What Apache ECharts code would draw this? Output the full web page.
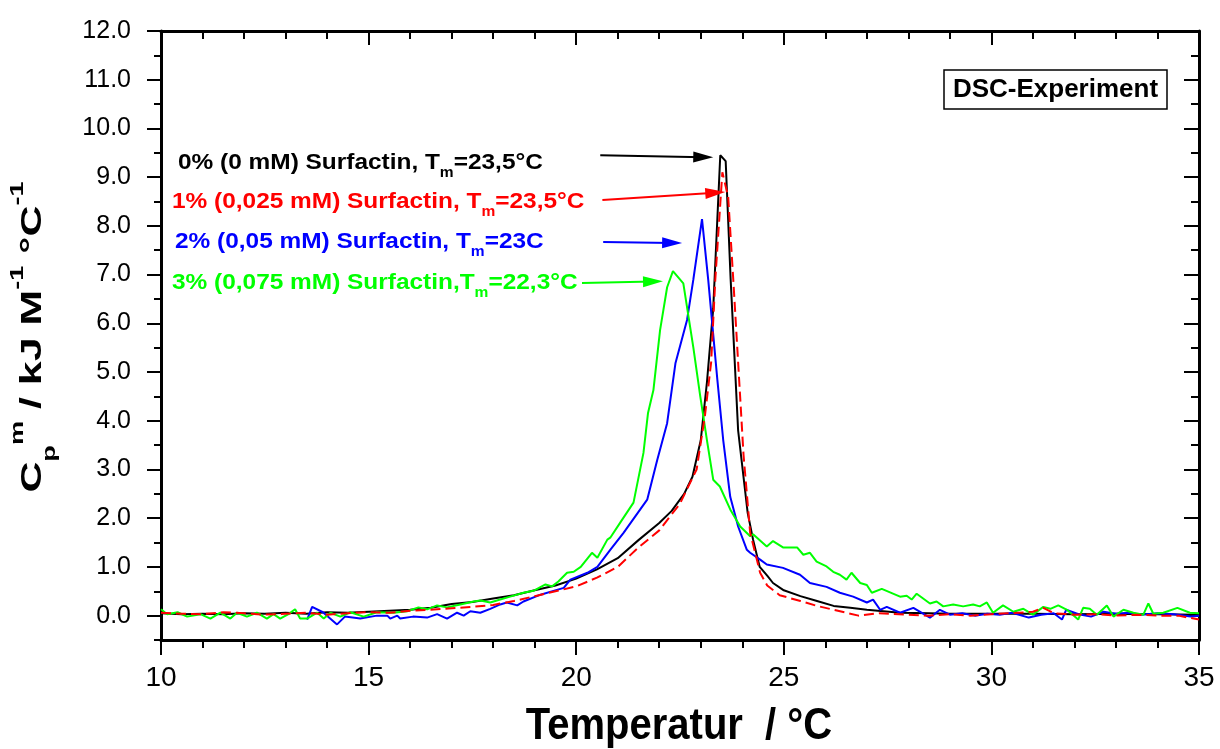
<!DOCTYPE html>
<html><head><meta charset="utf-8">
<script src="https://cdn.jsdelivr.net/npm/echarts@6/dist/echarts.min.js"></script>
<style>html,body{margin:0;padding:0;background:#fff}#c{width:1220px;height:749px}</style>
</head><body><div id="c"></div>
<script>
// ---- data ----
const seriesNames = ['0% (0 mM) Surfactin', '1% (0,025 mM) Surfactin', '2% (0,05 mM) Surfactin', '3% (0,075 mM) Surfactin'];
const annotationTexts = [
  ['0% (0 mM) Surfactin, T', 'm', '=23,5°C'],
  ['1% (0,025 mM) Surfactin, T', 'm', '=23,5°C'],
  ['2% (0,05 mM) Surfactin, T', 'm', '=23C'],
  ['3% (0,075 mM) Surfactin,T', 'm', '=22,3°C']
];
const xTickValues = [10, 15, 20, 25, 30, 35];
const yTickValues = [0,1,2,3,4,5,6,7,8,9,10,11,12];
const yMinorTickValues = [-0.5,0.5,1.5,2.5,3.5,4.5,5.5,6.5,7.5,8.5,9.5,10.5,11.5];

const tempBlack = [10,10.5,11,11.5,12,12.5,13,13.5,14,14.5,15,15.5,16,16.5,17,17.5,18,18.5,19,19.5,20,20.5,21,21.5,22,
  22.3,22.6,22.8,23.0,23.15,23.3,23.47,23.6,23.72,23.9,24.13,24.26,24.42,24.6,24.74,
  25.0,25.4,25.8,26.2,26.6,27.0,27.4,27.8,28.5,
  29,30,31,32,33,34,35];
const cpBlack = [0.05,0.03,0.04,0.03,0.05,0.04,0.06,0.04,0.07,0.06,0.08,0.1,0.12,0.16,0.24,0.28,0.35,0.42,0.52,0.62,0.76,0.95,1.18,1.55,1.9,
  2.15,2.5,2.85,3.6,4.8,6.3,9.45,9.33,6.9,3.8,2.11,1.56,1.0,0.82,0.67,
  0.52,0.4,0.3,0.2,0.16,0.12,0.09,0.06,0.05,
  0.04,0.04,0.04,0.03,0.04,0.03,0.02];

const tempRed = [10,10.5,11,11.5,12,12.5,13,13.5,14,14.5,15,15.5,16,16.5,17,17.5,18,18.5,19,19.5,20,20.5,21,21.5,22,
  22.5,22.9,23.1,23.25,23.35,23.52,23.66,23.79,23.9,24.03,24.19,24.43,24.6,24.9,
  25.4,25.8,26.2,26.8,27.3,28,28.5,29,29.5,30,30.5,31,31.25,31.5,32,32.5,33,33.5,34,34.5,35];
const cpRed = [0.06,0.04,0.03,0.07,0.05,0.02,0.04,0.06,0.02,0.05,0.07,0.06,0.1,0.12,0.15,0.18,0.22,0.3,0.4,0.5,0.6,0.78,1.0,1.4,1.75,
  2.3,3.0,4.1,5.2,6.9,9.1,8.6,6.8,5.2,3.3,1.7,0.88,0.62,0.42,
  0.3,0.2,0.12,0.0,0.05,0.02,0.0,0.03,0.0,0.03,0.05,0.08,0.16,0.05,0.02,0.03,0.0,0.02,0.0,0.0,-0.08];

const tempBlue = [13.52,13.64,13.9,14.24,14.43,14.8,15.2,15.45,15.52,15.69,15.76,16.07,16.41,16.65,16.89,17.13,17.29,17.45,17.69,17.93,
  18.17,18.33,18.58,18.73,19.14,19.7,19.86,20.27,20.51,20.82,21.14,21.71,21.95,22.19,22.39,22.67,22.82,23.03,23.18,23.4,
  23.54,23.71,23.9,24.11,24.19,24.43,24.59,24.98,25.39,25.63,26.03,26.35,26.67,27.0,27.15,27.32,27.48,27.8,28.12,28.52,
  28.76,29.0,29.3,29.6,29.9,30.2,30.5,30.9,31.2,31.5,31.7,31.8,32.1,32.4,32.7,33.0,33.3,33.6,34.0,34.4,34.8,35];
const cpBlue = [-0.08,0.18,0.07,-0.18,-0.02,-0.06,0.0,0.0,-0.06,0.0,-0.06,-0.02,-0.04,0.03,-0.06,0.06,0.0,0.09,0.06,0.14,
  0.23,0.27,0.21,0.29,0.43,0.57,0.74,0.88,1.0,1.35,1.7,2.38,3.19,3.95,5.18,6.07,6.89,8.14,6.89,4.84,
  3.61,2.44,1.83,1.35,1.29,1.15,1.05,0.98,0.84,0.67,0.59,0.47,0.39,0.27,0.33,0.12,0.18,0.06,0.16,-0.04,
  0.12,0.02,0.05,0.0,0.04,0.02,0.06,-0.04,0.02,0.05,-0.08,0.12,0.03,-0.02,0.08,0.04,0.06,0.02,0.05,0.03,-0.02,0.0];

const tempGreen = [10.0,10.15,10.4,10.63,10.95,11.19,11.43,11.67,11.83,12.07,12.31,12.55,12.71,12.87,13.07,13.23,13.35,13.52,13.76,13.92,
  14.08,14.32,14.56,14.88,15.2,15.6,15.93,16.2,16.41,16.65,16.89,17.21,17.53,17.69,17.93,18.17,18.41,18.73,18.97,19.26,
  19.42,19.57,19.78,19.94,20.11,20.38,20.51,20.75,20.82,21.06,21.38,21.62,21.73,21.86,22.02,22.19,22.33,22.58,22.82,22.99,
  23.16,23.3,23.46,23.71,23.95,24.19,24.26,24.59,24.74,24.98,25.32,25.47,25.63,25.79,26.03,26.19,26.35,26.51,26.63,26.84,
  27.0,27.12,27.36,27.8,27.96,28.08,28.2,28.52,28.68,28.84,29.08,29.32,29.56,29.72,29.89,30.04,30.28,30.53,30.77,31.0,
  31.25,31.42,31.61,31.82,32.09,32.21,32.37,32.54,32.78,32.94,33.18,33.42,33.66,33.78,33.9,34.14,34.48,34.78,35.0];
const cpGreen = [0.13,0.03,0.07,-0.02,0.03,-0.06,0.06,-0.06,0.06,-0.02,0.06,-0.06,0.03,-0.06,0.03,0.13,-0.06,-0.06,0.06,-0.06,
  0.06,-0.02,0.07,-0.02,0.07,0.06,0.09,0.17,0.13,0.21,0.17,0.23,0.29,0.31,0.27,0.33,0.39,0.47,0.51,0.64,
  0.6,0.7,0.88,0.9,1.0,1.29,1.19,1.56,1.6,1.91,2.32,3.34,4.16,4.63,5.86,6.74,7.07,6.82,5.51,4.49,
  3.54,2.79,2.65,2.18,1.83,1.63,1.67,1.42,1.53,1.40,1.40,1.25,1.29,1.11,1.01,0.9,0.84,0.74,0.88,0.67,
  0.63,0.47,0.55,0.39,0.41,0.33,0.45,0.25,0.29,0.19,0.23,0.19,0.23,0.19,0.27,0.06,0.21,0.08,0.14,0.02,
  0.18,0.14,0.21,0.12,-0.08,0.16,0.14,0.02,0.21,-0.02,0.12,0.06,0.02,0.25,0.04,0.06,0.16,0.06,0.05];

// ---- chart ----
const FONT = 'Liberation Sans, Arial, Helvetica, sans-serif';
const COLORS = ['#000000', '#ff0000', '#0000ff', '#00ff00'];
function pairs(xs, ys) { const n = Math.min(xs.length, ys.length); const out = []; for (let i = 0; i < n; i++) out.push([xs[i], ys[i]]); return out; }

const chart = echarts.init(document.getElementById('c'), null, { renderer: 'canvas' });

const axisLineStyle = { color: '#000', width: 3 };
const tickStyle = { color: '#000', width: 2 };

function arrow(color, from, to) {
  return {
    silent: true, animation: false,
    symbol: ['none', 'triangle'], symbolSize: [11, 20],
    lineStyle: { color: color, width: 2, type: 'solid' },
    label: { show: false }, emphasis: { disabled: true },
    data: [[{ coord: from }, { coord: to }]]
  };
}

function lineSeries(name, data, color, dashed, markLine, z) {
  return {
    name: name, type: 'line', data: data, xAxisIndex: 0, yAxisIndex: 0,
    showSymbol: false, symbol: 'none', animation: false, z: z,
    lineStyle: { color: color, width: 2, type: dashed ? [10, 5] : 'solid' },
    itemStyle: { color: color },
    emphasis: { disabled: true },
    markLine: markLine
  };
}

function annotation(parts, color, x, y) {
  const st = (extra) => Object.assign({ fontFamily: FONT, fontWeight: 'bold', fontSize: 22, fill: color }, extra || {});
  return {
    type: 'text', x: x, y: y, scaleX: 1.11, silent: true,
    style: {
      text: '{n|' + parts[0] + '}{s|' + parts[1] + '}{n|' + parts[2] + '}',
      fontFamily: FONT, fontWeight: 'bold', fontSize: 22, fill: color,
      align: 'left', verticalAlign: 'middle',
      rich: { n: st(), s: st({ fontSize: 14, padding: [20, 0, 0, 0] }) }
    }
  };
}

const ytStyle = (extra) => Object.assign({ fontFamily: FONT, fontWeight: 'bold', fontSize: 30, fill: '#000' }, extra || {});

const option = {
  backgroundColor: '#ffffff',
  animation: false,
  grid: { left: 161, right: 21, top: 31, bottom: 109, containLabel: false, outerBoundsMode: 'none' },
  xAxis: [
    {
      type: 'value', position: 'bottom', min: 10, max: 35, interval: 5,
      axisLine: { show: true, onZero: false, lineStyle: axisLineStyle },
      axisTick: { show: true, inside: false, length: 15, lineStyle: tickStyle },
      minorTick: { show: true, splitNumber: 5, length: 8, lineStyle: tickStyle },
      splitLine: { show: false }, minorSplitLine: { show: false },
      axisLabel: { show: true, margin: 24, fontSize: 28, color: '#000', fontFamily: FONT }
    },
    {
      type: 'value', position: 'top', min: 10, max: 35, interval: 5,
      axisLine: { show: true, onZero: false, lineStyle: axisLineStyle },
      axisTick: { show: true, inside: true, length: 14, lineStyle: tickStyle },
      minorTick: { show: true, splitNumber: 5, length: 8, lineStyle: tickStyle },
      splitLine: { show: false }, minorSplitLine: { show: false },
      axisLabel: { show: false }
    }
  ],
  yAxis: [
    {
      type: 'value', position: 'left', min: -0.5, max: 12,
      axisLine: { show: true, onZero: false, lineStyle: axisLineStyle },
      axisTick: { show: true, inside: false, length: 14, lineStyle: tickStyle, customValues: yTickValues },
      splitLine: { show: false },
      axisLabel: { show: true, margin: 30, fontSize: 25, color: '#000', fontFamily: FONT, customValues: yTickValues,
        formatter: (v) => Number(v).toFixed(1) }
    },
    {
      type: 'value', position: 'left', min: -0.5, max: 12,
      axisLine: { show: false, onZero: false },
      axisTick: { show: true, inside: false, length: 7, lineStyle: tickStyle, customValues: yMinorTickValues },
      splitLine: { show: false }, axisLabel: { show: false }
    },
    {
      type: 'value', position: 'right', min: -0.5, max: 12,
      axisLine: { show: true, onZero: false, lineStyle: axisLineStyle },
      axisTick: { show: true, inside: true, length: 15, lineStyle: tickStyle, customValues: yTickValues },
      splitLine: { show: false }, axisLabel: { show: false }
    },
    {
      type: 'value', position: 'right', min: -0.5, max: 12,
      axisLine: { show: false, onZero: false },
      axisTick: { show: true, inside: true, length: 8, lineStyle: tickStyle, customValues: yMinorTickValues },
      splitLine: { show: false }, axisLabel: { show: false }
    }
  ],
  series: [
    lineSeries(seriesNames[0], pairs(tempBlack, cpBlack), COLORS[0], false, arrow(COLORS[0], [20.58, 9.45], [23.06, 9.41]), 2),
    lineSeries(seriesNames[2], pairs(tempBlue, cpBlue), COLORS[2], false, arrow(COLORS[2], [20.65, 7.67], [22.31, 7.65]), 3),
    lineSeries(seriesNames[3], pairs(tempGreen, cpGreen), COLORS[3], false, arrow(COLORS[3], [20.14, 6.83], [21.85, 6.86]), 4),
    lineSeries(seriesNames[1], pairs(tempRed, cpRed), COLORS[1], true, arrow(COLORS[1], [20.63, 8.53], [23.35, 8.68]), 5)
  ],
  graphic: [
    annotation(annotationTexts[0], COLORS[0], 178, 163),
    annotation(annotationTexts[1], COLORS[1], 172, 202),
    annotation(annotationTexts[2], COLORS[2], 175, 242),
    annotation(annotationTexts[3], COLORS[3], 172, 283),
    {
      type: 'rect', silent: true, z: 10,
      shape: { x: 944, y: 70, width: 223, height: 39 },
      style: { fill: '#fff', stroke: '#000', lineWidth: 1.5 }
    },
    {
      type: 'text', x: 1055.5, y: 90, silent: true, z: 11,
      style: { text: 'DSC-Experiment', fontFamily: FONT, fontWeight: 'bold', fontSize: 26, fill: '#000',
        align: 'center', verticalAlign: 'middle' }
    },
    {
      type: 'text', x: 679, y: 727, scaleY: 1.1, silent: true,
      style: { text: 'Temperatur  / °C', fontFamily: FONT, fontWeight: 'bold', fontSize: 40, fill: '#000',
        align: 'center', verticalAlign: 'middle' }
    },
    {
      type: 'text', x: 33, y: 337, rotation: Math.PI / 2, scaleX: 1.43, silent: true,
      style: {
        text: '{c|C}{sub|p}{sup|m}{c| / kJ M}{sup|-1}{c| °C}{sup|-1}',
        fontFamily: FONT, fontWeight: 'bold', fontSize: 30, fill: '#000',
        align: 'center', verticalAlign: 'middle',
        rich: {
          c: ytStyle(),
          sub: ytStyle({ fontSize: 19, padding: [34, 0, 0, 0] }),
          sup: ytStyle({ fontSize: 19, padding: [0, 0, 30, 0] })
        }
      }
    }
  ]
};
chart.setOption(option);
</script>
</body></html>
